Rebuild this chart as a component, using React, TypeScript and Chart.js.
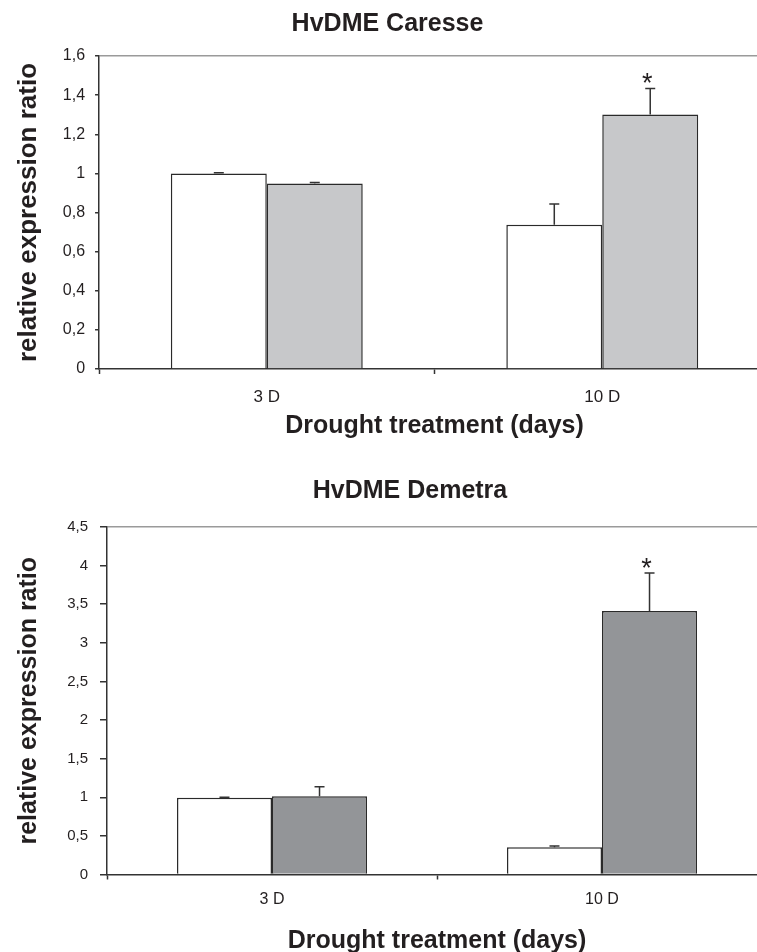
import React, { useEffect, useRef } from "react";
import { Chart, registerables } from "chart.js";

Chart.register(...registerables);

// ---------- data ----------
const categories = ["3 D", "10 D"];
const xAxisTitle = "Drought treatment (days)";
const yAxisTitle = "relative expression ratio";

// Panel 1: HvDME Caresse
const caresseTitle = "HvDME Caresse";
const caresseControl = [1.0, 0.737];
const caresseDrought = [0.948, 1.301];
const caresseControlErr = [0.003, 0.106];
const caresseDroughtErr = [0.005, 0.133];
const caresseControlSig = ["", ""];
const caresseDroughtSig = ["", "*"];
const caresseTicks = ["0", "0,2", "0,4", "0,6", "0,8", "1", "1,2", "1,4", "1,6"];

// Panel 2: HvDME Demetra
const demetraTitle = "HvDME Demetra";
const demetraControl = [0.995, 0.352];
const demetraDrought = [1.013, 3.413];
const demetraControlErr = [0.004, 0.017];
const demetraDroughtErr = [0.124, 0.49];
const demetraControlSig = ["", ""];
const demetraDroughtSig = ["", "*"];
const demetraTicks = ["0", "0,5", "1", "1,5", "2", "2,5", "3", "3,5", "4", "4,5"];

// ---------- styles ----------
const FONT = "'Liberation Sans', Arial, Helvetica, sans-serif";
const TEXT = "#231f20";
const AXIS = "#333333";
const BORDER = "#2a2a2a";
const TOPLINE = "#9a9a9a";

const errorBarPlugin = {
  id: "errorBars",
  afterDatasetsDraw(chart: any, _args: any, opts: any) {
    const ctx = chart.ctx;
    const yScale = chart.scales.y;
    chart.data.datasets.forEach((ds: any, i: number) => {
      const meta = chart.getDatasetMeta(i);
      const errs = ds.errors || [];
      const sig = ds.sig || [];
      meta.data.forEach((bar: any, j: number) => {
        const v = ds.data[j];
        const e = errs[j];
        if (e == null) return;
        const top = yScale.getPixelForValue(v + e);
        ctx.save();
        ctx.strokeStyle = opts.color;
        ctx.lineWidth = opts.width;
        ctx.beginPath();
        ctx.moveTo(bar.x, bar.y);
        ctx.lineTo(bar.x, top);
        ctx.moveTo(bar.x - opts.cap, top);
        ctx.lineTo(bar.x + opts.cap, top);
        ctx.stroke();
        if (sig[j]) {
          ctx.fillStyle = opts.sigColor;
          ctx.font = opts.sigFont;
          ctx.textAlign = "center";
          ctx.textBaseline = "alphabetic";
          ctx.fillText(sig[j], bar.x + opts.sigDx, top + opts.sigDy);
        }
        ctx.restore();
      });
    });
  },
};

const panelTitlePlugin = {
  id: "panelTitle",
  afterDraw(chart: any, _args: any, opts: any) {
    if (!opts || !opts.text) return;
    const ctx = chart.ctx;
    ctx.save();
    ctx.fillStyle = opts.color;
    ctx.font = opts.font;
    ctx.textAlign = "center";
    ctx.textBaseline = "middle";
    ctx.fillText(opts.text, opts.x, opts.y);
    ctx.restore();
  },
};

function makeConfig(p: any) {
  const last = p.ticks.length - 1;
  return {
    type: "bar",
    data: {
      labels: categories,
      datasets: [
        {
          label: "control",
          data: p.control,
          errors: p.controlErr,
          sig: p.controlSig,
          backgroundColor: "#ffffff",
          borderColor: BORDER,
          borderWidth: 1.5,
        },
        {
          label: "drought",
          data: p.drought,
          errors: p.droughtErr,
          sig: p.droughtSig,
          backgroundColor: p.gray,
          borderColor: BORDER,
          borderWidth: 1.5,
        },
      ],
    },
    options: {
      responsive: false,
      animation: false,
      layout: { padding: p.layout },
      datasets: { bar: { categoryPercentage: p.catPct, barPercentage: 1 } },
      plugins: {
        legend: { display: false },
        title: { display: false },
        tooltip: { enabled: false },
        panelTitle: {
          text: p.title,
          x: p.titleX,
          y: p.titleY,
          font: `bold 25px ${FONT}`,
          color: TEXT,
        },
        errorBars: {
          color: AXIS,
          width: 1.5,
          cap: 5,
          sigFont: `27px ${FONT}`,
          sigColor: TEXT,
          sigDx: -3,
          sigDy: 3.5,
        },
      },
      scales: {
        x: {
          grid: {
            offset: true,
            drawOnChartArea: false,
            color: "transparent",
            tickColor: AXIS,
            tickLength: 5,
            tickWidth: 1.5,
          },
          border: { display: true, color: AXIS, width: 1.5 },
          ticks: {
            font: { family: FONT, size: p.xTickSize },
            color: TEXT,
            padding: p.xTickPad,
          },
          title: {
            display: true,
            text: xAxisTitle,
            font: { family: FONT, size: 25, weight: "bold" },
            color: TEXT,
            padding: p.xTitlePad,
          },
        },
        y: {
          min: 0,
          max: p.max,
          ticks: {
            stepSize: p.step,
            callback: (_v: any, i: number) => p.ticks[i],
            font: { family: FONT, size: p.yTickSize },
            color: TEXT,
            padding: p.yTickPad,
          },
          grid: {
            color: (c: any) => (c.index === last ? TOPLINE : "transparent"),
            lineWidth: 1.5,
            tickColor: AXIS,
            tickLength: p.yTickLen,
            tickWidth: 1.5,
          },
          border: { display: true, color: AXIS, width: 1.5 },
          title: {
            display: true,
            text: yAxisTitle,
            font: { family: FONT, size: p.yTitleSize, weight: "bold" },
            color: TEXT,
            padding: p.yTitlePad,
          },
        },
      },
    },
    plugins: [errorBarPlugin, panelTitlePlugin],
  };
}

const panel1 = {
  title: caresseTitle,
  titleX: 387.5,
  titleY: 24.5,
  control: caresseControl,
  drought: caresseDrought,
  controlErr: caresseControlErr,
  droughtErr: caresseDroughtErr,
  controlSig: caresseControlSig,
  droughtSig: caresseDroughtSig,
  ticks: caresseTicks,
  max: 1.6,
  step: 0.2,
  gray: "#c7c8ca",
  catPct: 0.572,
  layout: { top: 56, left: 5, right: 10, bottom: 0 },
  xTickSize: 17,
  xTickPad: 13,
  xTitlePad: { top: -8.9, bottom: 3.5 },
  yTickSize: 16,
  yTickPad: 10,
  yTickLen: 4,
  yTitleSize: 26,
  yTitlePad: { top: 8.4, bottom: 8.2 },
};

const panel2 = {
  title: demetraTitle,
  titleX: 410,
  titleY: 46.5,
  control: demetraControl,
  drought: demetraDrought,
  controlErr: demetraControlErr,
  droughtErr: demetraDroughtErr,
  controlSig: demetraControlSig,
  droughtSig: demetraDroughtSig,
  ticks: demetraTicks,
  max: 4.5,
  step: 0.5,
  gray: "#939598",
  catPct: 0.576,
  layout: { top: 82, left: 5, right: 13, bottom: 0 },
  xTickSize: 16,
  xTickPad: 10.9,
  xTitlePad: { top: 6, bottom: 0.5 },
  yTickSize: 15,
  yTickPad: 12,
  yTickLen: 7,
  yTitleSize: 25,
  yTitlePad: { top: 9, bottom: 11.15 },
};

function Panel(props: { params: any; width: number; height: number; top: number }) {
  const ref = useRef<HTMLCanvasElement | null>(null);
  useEffect(() => {
    if (!ref.current) return;
    const chart = new Chart(ref.current, makeConfig(props.params) as any);
    return () => chart.destroy();
  }, []);
  return (
    <canvas
      ref={ref}
      width={props.width}
      height={props.height}
      style={{
        position: "absolute",
        left: 0,
        top: props.top,
        width: props.width,
        height: props.height,
        display: "block",
      }}
    />
  );
}

export default function App() {
  return (
    <div
      style={{
        position: "fixed",
        left: 0,
        top: 0,
        width: 757,
        height: 952,
        overflow: "hidden",
        background: "#ffffff",
      }}
    >
      <Panel params={panel1} width={780} height={445} top={0} />
      <Panel params={panel2} width={780} height={512} top={445} />
    </div>
  );
}
